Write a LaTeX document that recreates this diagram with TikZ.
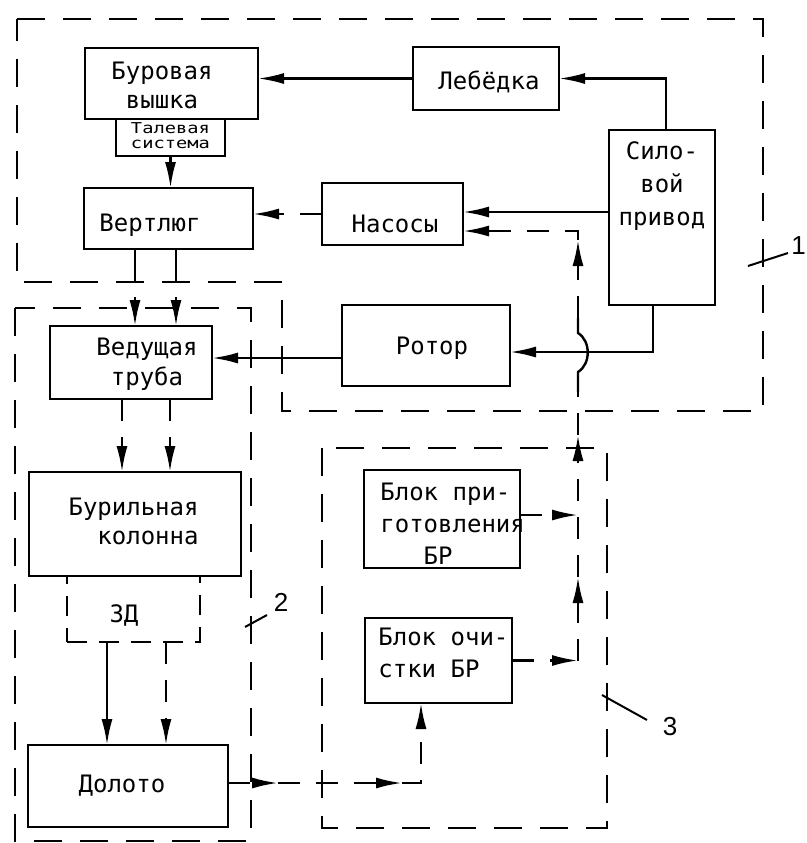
\documentclass[tikz,border=0pt]{standalone}
\usepackage{fontspec}
\usepackage{graphicx}
\usetikzlibrary{arrows.meta}
\newfontfamily\boxfont{DejaVu Sans Mono}
\newfontfamily\labfont{Liberation Sans}
\begin{document}
\begin{tikzpicture}[x=0.5pt,y=-0.5pt,
  box/.style={draw, line width=1.3pt, inner sep=0pt, outer sep=0pt},
  dbox/.style={draw, line width=1.2pt, dash pattern=on 10pt off 6pt, inner sep=0pt, outer sep=0pt},
  txt/.style={font=\fontsize{12}{14.5}\boxfont, inner sep=0pt, align=center},
  region/.style={line width=1.3pt, dash pattern=on 14pt off 9pt},
  arr/.style={line width=1.2pt, -{Latex[length=13pt,width=5.5pt]}},
  darr/.style={arr, dash pattern=on 11pt off 8pt},
  larr/.style={arr, dash pattern=on 16.5pt off 7.5pt},
  dline/.style={line width=1.2pt, dash pattern=on 11pt off 8pt},
  sline/.style={line width=1.2pt},
  lead/.style={line width=1pt},
  lab/.style={font=\fontsize{13}{15}\labfont, inner sep=0pt}]
\useasboundingbox (0,0) rectangle (807,843);

% dashed regions
\draw[region] (17,19) -- (763,19) -- (763,411) -- (282,411) -- (282,282) -- (17,282) -- cycle;
\draw[region] (15,308) rectangle (251,841);
\draw[region] (322,448) rectangle (607,828);

% boxes
\node[box, minimum width=86.5pt, minimum height=35.5pt] (vyshka) at (171.5,83.5) {};
\node[box, line width=1pt, minimum width=54.5pt, minimum height=18.5pt] (tal) at (170.5,137.5) {};
\node[box, minimum width=84.5pt, minimum height=30.5pt] (vert) at (168.5,218.5) {};
\node[box, minimum width=73pt, minimum height=31.5pt] (leb) at (486,78.5) {};
\node[box, minimum width=70.5pt, minimum height=31pt] (nasos) at (392.5,214) {};
\node[box, minimum width=53pt, minimum height=87.5pt] (sila) at (662,217.5) {};
\node[box, minimum width=84pt, minimum height=40.5pt] (rotor) at (426,345.5) {};
\node[box, minimum width=81pt, minimum height=36.5pt] (ved) at (131,362.5) {};
\node[box, minimum width=106pt, minimum height=52pt] (bur) at (135,524) {};
\node[dbox, minimum width=66.5pt, minimum height=33pt] (zd) at (133.5,609) {};
\node[box, minimum width=100pt, minimum height=41pt] (dol) at (128,786) {};
\node[box, minimum width=78pt, minimum height=49pt] (prig) at (442,519) {};
\node[box, minimum width=73.5pt, minimum height=42.5pt] (och) at (438.5,660.5) {};

% texts
\node[txt] (vyshkaT) at (162,85) {Буровая\\вышка};
\node[inner sep=0pt] (talT) at (170.5,138) {\scalebox{1.25}[1]{\fontsize{7.5}{8}\boxfont\begin{tabular}{@{}c@{}}Талевая\\[-0.5pt]система\end{tabular}}};
\node[txt] (vertT) at (150,225) {Вертлюг};
\node[txt] (lebT) at (489,82) {Лебёдка};
\node[txt] (nasosT) at (395,224) {Насосы};
\node[txt, font=\fontsize{12}{16.5}\boxfont] (silaT) at (662,186) {Сило-\\вой\\привод};
\node[txt] (rotorT) at (432,348) {Ротор};
\node[txt, font=\fontsize{12}{15}\boxfont] (vedT) at (147,364) {Ведущая\\труба};
\node[txt, align=right, anchor=east] (burT) at (199,521) {Бурильная\\колонна};
\node[txt] (zdT) at (124,615) {ЗД};
\node[txt] (dolT) at (122,786) {Долото};
\node[txt, align=left, anchor=west, font=\fontsize{12}{16}\boxfont] (prigT) at (380,524) {Блок при-\\готовления\\\phantom{гот}БР};
\node[txt, align=left, anchor=west, font=\fontsize{12}{16}\boxfont] (ochT) at (378,653) {Блок очи-\\стки БР};

% helper x positions
\coordinate (xa) at (135,0);
\coordinate (xb) at (176,0);
\coordinate (xc) at (122,0);
\coordinate (xd) at (170,0);
\coordinate (xe) at (107,0);
\coordinate (xf) at (166,0);
\coordinate (xv) at (578,0);

% connectors top
\draw[arr] (leb.west) -- (leb.west -| vyshka.east);
\draw[arr] ([xshift=2pt]sila.north) |- (leb.east);
\draw[arr] ([yshift=2.75pt]sila.west) -- ([yshift=2.75pt]sila.west -| nasos.east);
\draw[darr] (nasos.west) -- (nasos.west -| vert.east);
\draw[arr] (tal.south) -- (tal.south |- vert.north);
\draw[larr] (vert.south -| xa) -- (ved.north -| xa);
\draw[larr] (vert.south -| xb) -- (ved.north -| xb);
\draw[arr] ([xshift=-4.5pt]sila.south) |- ([yshift=-3.25pt]rotor.east);
\draw[arr] ([yshift=-6.25pt]rotor.west) -- ([yshift=-6.25pt]rotor.west -| ved.east);

% column
\draw[darr] (ved.south -| xc) -- (bur.north -| xc);
\draw[darr] (ved.south -| xd) -- (bur.north -| xd);
\draw[arr] (zd.south -| xe) -- (dol.north -| xe);
\draw[darr] (zd.south -| xf) -- (dol.north -| xf);

% mud circuit
\coordinate (dA) at (278,783);
\coordinate (dB) at (402,783);
\coordinate (dC) at (421,783);
\draw[darr] ([yshift=1.5pt]dol.east) -- (dA);
\draw[darr] (dA) -- (dB);
\draw[darr] (dB) -- (dC) -- (dC |- och.south);

\coordinate (jO) at (och.east -| xv);
\coordinate (jA) at (578,577);
\coordinate (jB) at (578,435);
\coordinate (bL) at (578,392);
\coordinate (bU) at (578,318);
\coordinate (jC) at (578,240);
\draw[darr] (och.east) -- (jO);
\draw[darr] (jO) -- (jA);
\draw[darr] (jA) -- (jB);
\draw[dline] (jB) -- (bL);
\draw[sline] (bL) -- (578,372) .. controls (591,364) and (591,341) .. (578,333) -- (bU);
\draw[darr] (bU) -- (jC);
\draw[darr] (jC) |- ([yshift=-8.5pt]nasos.east);
\draw[darr] ([yshift=2pt]prig.east) -- ([yshift=2pt]prig.east -| xv);

% region labels
\draw[lead] (748,266) -- (788,253);
\draw[lead] (245,627) -- (267,615);
\draw[lead] (602,695) -- (647,720);
\node[lab, anchor=west] (l1) at (791,246) {1};
\node[lab] (l2) at (281,602) {2};
\node[lab] (l3) at (670,727) {3};
\end{tikzpicture}
\end{document}
